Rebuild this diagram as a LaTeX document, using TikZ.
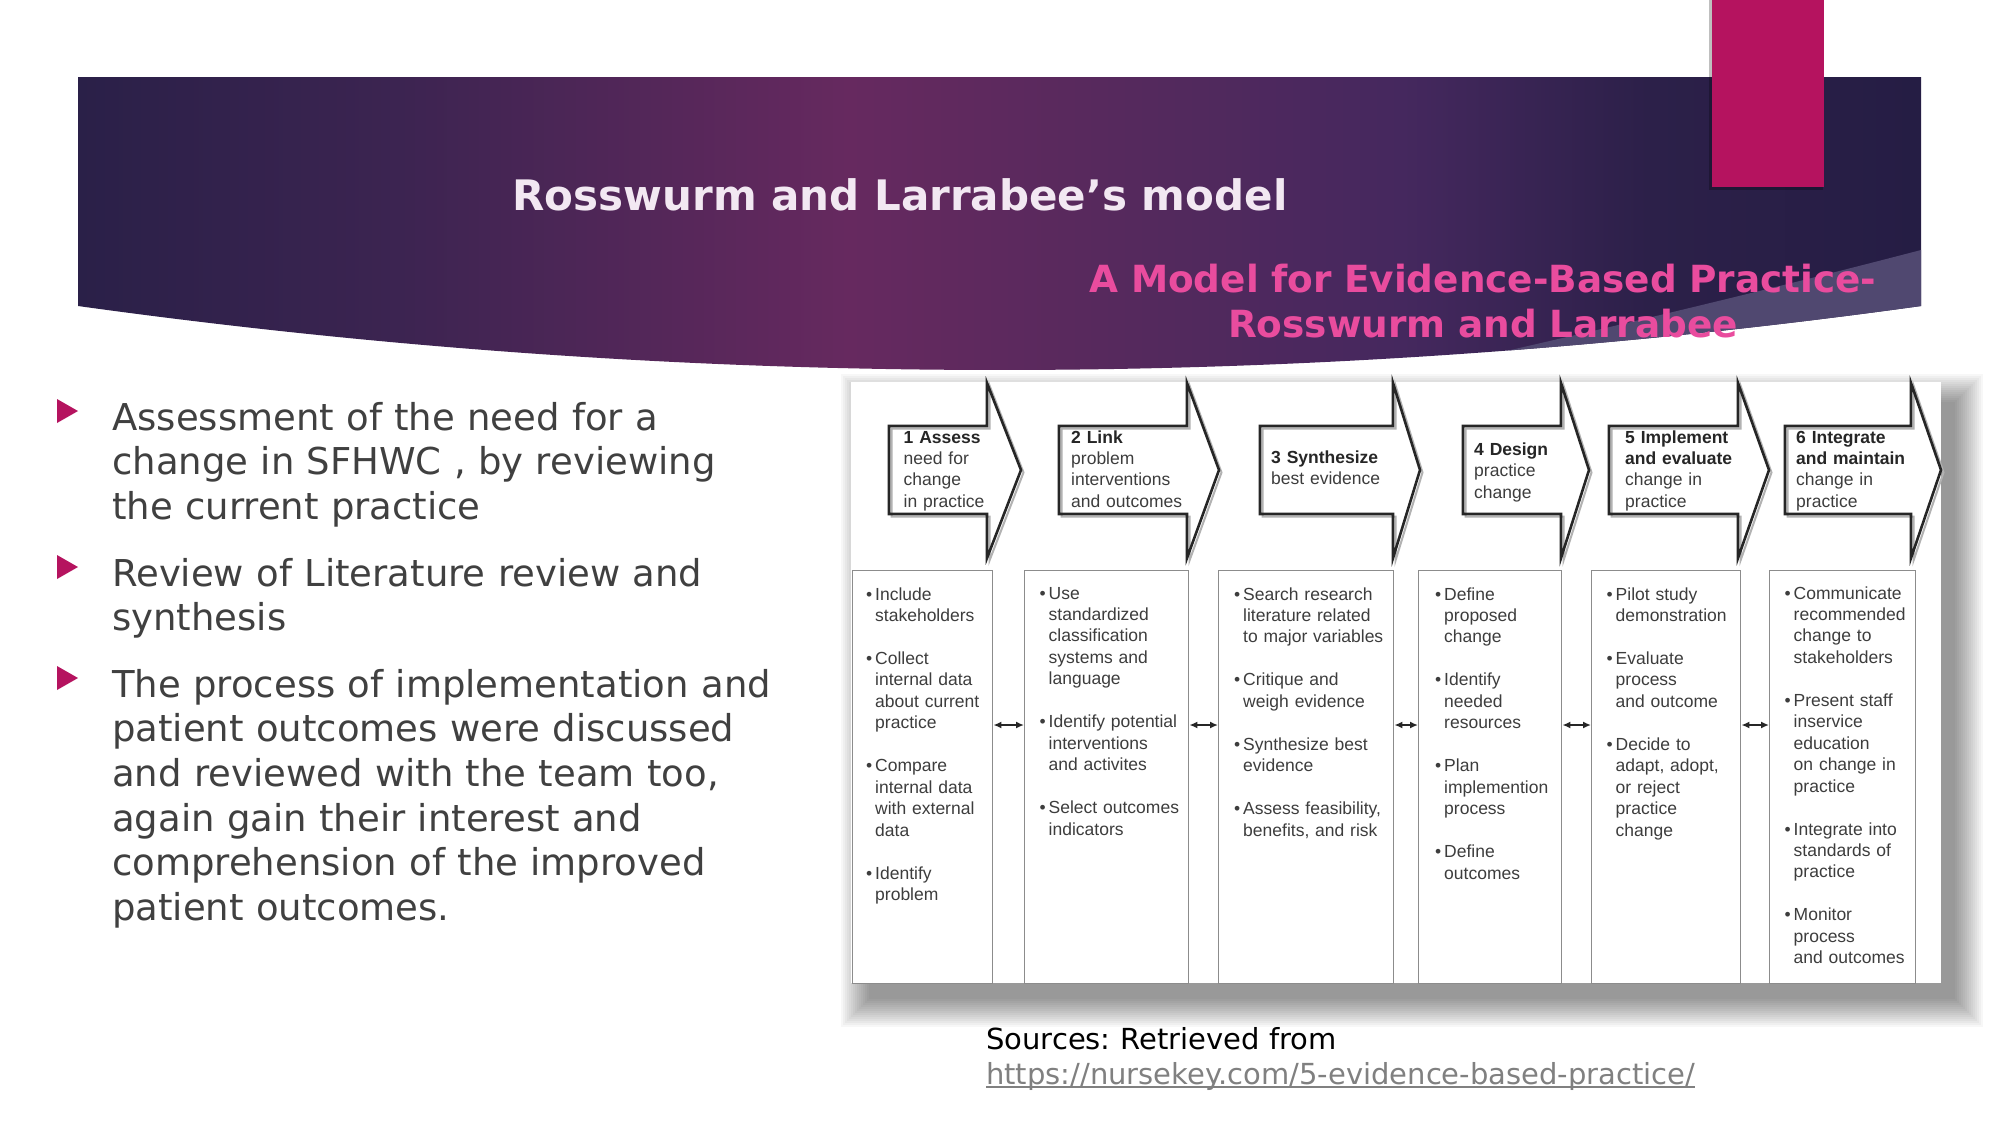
\documentclass[tikz,border=0pt]{standalone}
\usepackage{fontspec}
\setmainfont{DejaVu Sans}
\newfontfamily\diagfont{Liberation Sans}
\usetikzlibrary{arrows.meta}

\definecolor{bannerA}{HTML}{2A2048}
\definecolor{bannerB}{HTML}{3C2451}
\definecolor{bannerC}{HTML}{66295F}
\definecolor{bannerD}{HTML}{57295D}
\definecolor{bannerE}{HTML}{45285E}
\definecolor{bannerF}{HTML}{2C2049}
\definecolor{bannerG}{HTML}{251D44}
\definecolor{wedge}{HTML}{504870}
\definecolor{magentabar}{HTML}{B5135F}
\definecolor{titlewhite}{HTML}{F2E8F2}
\definecolor{subpink}{HTML}{E94C9E}
\definecolor{bodygray}{HTML}{404040}
\definecolor{urlgray}{HTML}{808080}
\definecolor{diagink}{HTML}{3D3D3D}
\definecolor{diaghead}{HTML}{262626}
\definecolor{boxline}{HTML}{8C8C8C}

\pgfdeclarehorizontalshading{bannershade}{100bp}{%
  color(0bp)=(bannerA); color(25bp)=(bannerA);
  color(33.7bp)=(bannerB); color(45.9bp)=(bannerC);
  color(52.7bp)=(bannerD); color(60.9bp)=(bannerE);
  color(67.6bp)=(bannerF); color(75bp)=(bannerG); color(100bp)=(bannerG)}

\frenchspacing
\newcommand{\bul}{\makebox[9pt][l]{•}}
\newcommand{\ind}{\hspace*{9pt}}
\newcommand{\stephead}[1]{{\color{diaghead}\bfseries #1}}
\newcommand{\ulink}[1]{\leavevmode\setbox0\hbox{#1}\rlap{\rule[-3.5pt]{\wd0}{1.5pt}}\box0}

\begin{document}
\begin{tikzpicture}[x=1pt, y=-1pt]
    % Styles
    \tikzstyle{bodytext} = [anchor=base west, inner sep=0pt, text width=740pt, align=left, text=bodygray, font=\fontsize{37}{44.7}\selectfont]
    \tikzstyle{arrowtext} = [anchor=base west, inner sep=0pt, text width=170pt, align=left, text=diagink, font=\diagfont\fontsize{17.5}{21.45}\selectfont]
    \tikzstyle{stagebox} = [draw=boxline, line width=1.4pt, fill=white, anchor=north west, inner sep=0pt, minimum height=413pt]
    \tikzstyle{stagearrow} = [draw=diaghead, line width=2.6pt, line join=miter]
    \tikzstyle{stageshadow} = [draw=gray!60, line width=2pt, line join=miter]
    \tikzstyle{linkarrow} = [{Latex[length=8pt,width=7pt]}-{Latex[length=8pt,width=7pt]}, draw=diaghead, line width=1.8pt]

    % Canvas and banner
    \useasboundingbox (0,0) rectangle (2001,1125);
    \fill[white] (0,0) rectangle (2001,1125);
    \shade[shading=bannershade] (78,77) -- (1921,77) -- (1921,306)
        .. controls (1307,391.3) and (692.7,391.3) .. (78,306) -- cycle;
    \begin{scope}
        \clip (78,77) -- (1921,77) -- (1921,306)
            .. controls (1307,391.3) and (692.7,391.3) .. (78,306) -- cycle;
        \fill[wedge] (1921,250) .. controls (1760,292) and (1600,330) .. (1440,366)
            -- (1440,420) -- (1930,420) -- (1930,250) -- cycle;
    \end{scope}
    \fill[black, opacity=0.25] (1709,0) rectangle (1823,190);
    \fill[magentabar] (1712,0) rectangle (1824,187);

    % Titles
    \node[anchor=base, inner sep=0pt, text=titlewhite, font=\fontsize{42}{50}\selectfont\bfseries] (title) at (900,210) {Rosswurm and Larrabee’s model};
    \node[anchor=base, inner sep=0pt, text width=900pt, align=center, text=subpink, font=\fontsize{37.4}{45}\selectfont\bfseries] (subtitle) at (1483,292) {A Model for Evidence-Based Practice-\\Rosswurm and Larrabee};

    % Bullet list
    \foreach \y in {411,567,678}
        \fill[magentabar] (57,\y-12) -- (78,\y) -- (57,\y+12) -- cycle;
    \node[bodytext] (p1) at (112,430) {Assessment of the need for a\\change in SFHWC , by reviewing\\the current practice};
    \node[bodytext] (p2) at (112,586) {Review of Literature review and\\synthesis};
    \node[bodytext] (p3) at (112,697) {The process of implementation and\\patient outcomes were discussed\\and reviewed with the team too,\\again gain their interest and\\comprehension of the improved\\patient outcomes.};

    % Model picture frame
    \foreach \k in {0,2,...,28}
        \fill[black, opacity=0.03] (841+\k,374+\k) rectangle (1983-\k,1027-\k);
    \fill[white] (851,382) rectangle (1941,983);

    % Stage boxes
    \node[stagebox, minimum width=140pt] (b1) at (852,570) {};
    \node[stagebox, minimum width=164pt] (b2) at (1024,570) {};
    \node[stagebox, minimum width=175pt] (b3) at (1218,570) {};
    \node[stagebox, minimum width=143pt] (b4) at (1418,570) {};
    \node[stagebox, minimum width=149pt] (b5) at (1591,570) {};
    \node[stagebox, minimum width=146pt] (b6) at (1769,570) {};

    % Stage arrows
    \foreach \bx/\hx/\tx in {889/987/1021, 1059/1187/1219, 1260/1393/1420, 1463/1561/1589, 1609/1738/1769, 1785/1911/1941} {
        \draw[stageshadow] (\bx+2.5,428.5) -- (\hx+2.5,428.5) -- (\hx+2.5,385.5) -- (\tx+2.5,472.5) -- (\hx+2.5,560.5) -- (\hx+2.5,516.5) -- (\bx+2.5,516.5) -- cycle;
        \draw[stagearrow] (\bx,426) -- (\hx,426) -- (\hx,383) -- (\tx,470) -- (\hx,558) -- (\hx,514) -- (\bx,514) -- cycle;
    }

    % Arrow texts
    \node[arrowtext] (a1) at (903.5,443) {\stephead{1 Assess}\\need for\\change\\in practice};
    \node[arrowtext] (a2) at (1071,443) {\stephead{2 Link}\\problem\\interventions\\and outcomes};
    \node[arrowtext] (a3) at (1271,463) {\stephead{3 Synthesize}\\best evidence};
    \node[arrowtext] (a4) at (1474,455.5) {\stephead{4 Design}\\practice\\change};
    \node[arrowtext] (a5) at (1625,443) {\stephead{5 Implement}\\\stephead{and evaluate}\\change in\\practice};
    \node[arrowtext] (a6) at (1796,443) {\stephead{6 Integrate}\\\stephead{and maintain}\\change in\\practice};

    % Box texts
    \node[arrowtext] (l1) at (866,600) {\bul Include\\\ind stakeholders\\[21.5pt]\bul Collect\\\ind internal data\\\ind about current\\\ind practice\\[21.5pt]\bul Compare\\\ind internal data\\\ind with external\\\ind data\\[21.5pt]\bul Identify\\\ind problem};
    \node[arrowtext] (l2) at (1039.5,599) {\bul Use\\\ind standardized\\\ind classification\\\ind systems and\\\ind language\\[21.5pt]\bul Identify potential\\\ind interventions\\\ind and activites\\[21.5pt]\bul Select outcomes\\\ind indicators};
    \node[arrowtext] (l3) at (1234,600) {\bul Search research\\\ind literature related\\\ind to major variables\\[21.5pt]\bul Critique and\\\ind weigh evidence\\[21.5pt]\bul Synthesize best\\\ind evidence\\[21.5pt]\bul Assess feasibility,\\\ind benefits, and risk};
    \node[arrowtext] (l4) at (1435,600) {\bul Define\\\ind proposed\\\ind change\\[21.5pt]\bul Identify\\\ind needed\\\ind resources\\[21.5pt]\bul Plan\\\ind implemention\\\ind process\\[21.5pt]\bul Define\\\ind outcomes};
    \node[arrowtext] (l5) at (1606.5,600) {\bul Pilot study\\\ind demonstration\\[21.5pt]\bul Evaluate\\\ind process\\\ind and outcome\\[21.5pt]\bul Decide to\\\ind adapt, adopt,\\\ind or reject\\\ind practice\\\ind change};
    \node[arrowtext] (l6) at (1784.5,599) {\bul Communicate\\\ind recommended\\\ind change to\\\ind stakeholders\\[21.5pt]\bul Present staff\\\ind inservice\\\ind education\\\ind on change in\\\ind practice\\[21.5pt]\bul Integrate into\\\ind standards of\\\ind practice\\[21.5pt]\bul Monitor\\\ind process\\\ind and outcomes};

    % Links between boxes
    \coordinate (linkrow) at (0,725);
    \foreach \i/\j in {1/2,2/3,3/4,4/5,5/6}
        \draw[linkarrow] (b\i.east |- linkrow) -- (b\j.west |- linkrow);

    % Source
    \node[anchor=base west, inner sep=0pt, text width=800pt, align=left, font=\fontsize{29}{35}\selectfont] (src) at (986,1049) {Sources: Retrieved from\\{\color{urlgray}\ulink{https://nursekey.com/5-evidence-based-practice/}}};
\end{tikzpicture}
\end{document}
